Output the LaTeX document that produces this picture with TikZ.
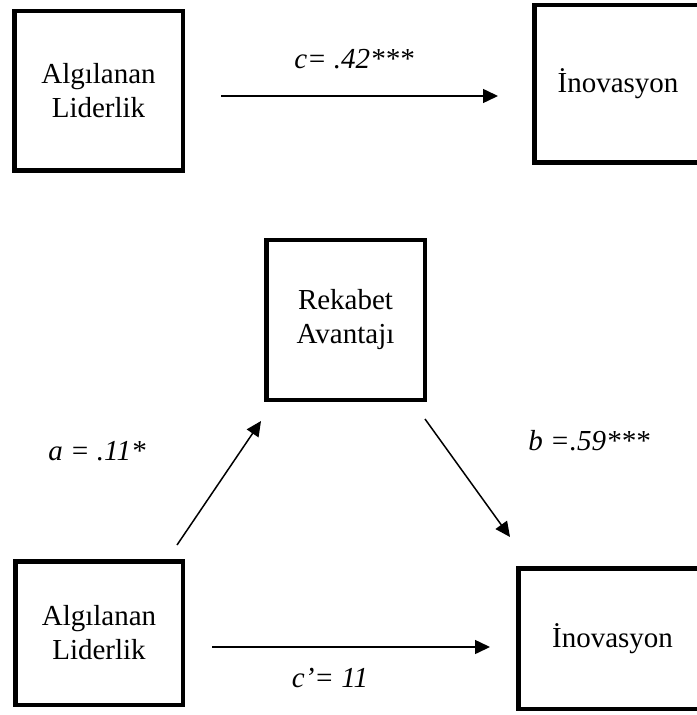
\documentclass[tikz,border=0pt]{standalone}
\usepackage{fontspec}
\setmainfont{Liberation Serif}
\usepackage{tikz}
\usetikzlibrary{arrows.meta}
\usetikzlibrary{positioning}

\begin{document}
\begin{tikzpicture}[x=0.5pt, y=-0.5pt,
    font=\fontsize{14.5}{17}\selectfont,
    kutu/.style={draw, line width=2.25pt, inner sep=0pt, align=center},
    ok/.style={line width=0.75pt, -{Triangle[length=7.5pt, width=7pt]}},
    katsayi/.style={anchor=base, font=\fontsize{14.5}{17}\selectfont\itshape}]
    \useasboundingbox (0,0) rectangle (696,715);

    % ust model
    \node[kutu, minimum width=84.25pt, minimum height=79.75pt] (lider1) at (98.5,91) {Algılanan\\Liderlik};
    \node[kutu, minimum width=83.75pt, minimum height=78.75pt] (ino1) at (618,84) {İnovasyon};
    \coordinate (c1) at (221,96);
    \coordinate (c2) at (498,96);
    \draw[ok] (c1) -- (c2);
    \node[katsayi] (cyol) at (354,69) {c= .42***};

    % aracili model
    \node[kutu, minimum width=79.25pt, minimum height=79.75pt] (rekabet) at (345.5,320) {Rekabet\\Avantajı};
    \node[kutu, minimum width=83.75pt, minimum height=71.75pt] (lider2) at (99,633) {Algılanan\\Liderlik};
    \node[kutu, minimum width=94.25pt, minimum height=70.25pt] (ino2) at (612.5,638.5) {İnovasyon};

    \coordinate (a1) at (177,545);
    \coordinate (a2) at (261,421);
    \coordinate (b1) at (425,419);
    \coordinate (b2) at (510,537);
    \coordinate (d1) at (212,647);
    \coordinate (d2) at (490,647);
    \draw[ok] (a1) -- (a2);
    \draw[ok] (b1) -- (b2);
    \draw[ok] (d1) -- (d2);

    \node[katsayi] (ayol) at (97,460) {a = .11*};
    \node[katsayi] (byol) at (589,450) {b =.59***};
    \node[katsayi] (dyol) at (330,687) {c’= 11};

\end{tikzpicture}
\end{document}
